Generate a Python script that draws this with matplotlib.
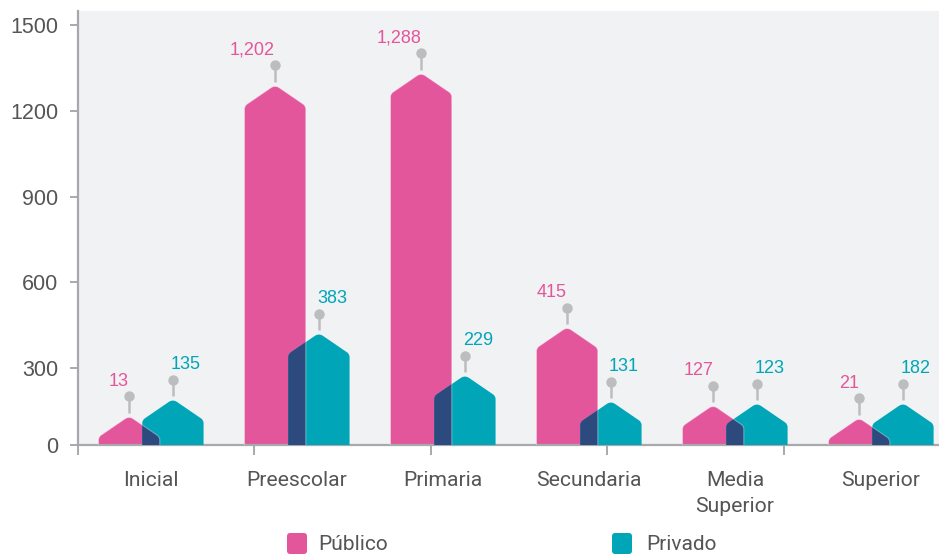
import numpy as np
import matplotlib
matplotlib.use('Agg')
import matplotlib.pyplot as plt
from matplotlib.path import Path
from matplotlib.patches import PathPatch, FancyBboxPatch

# --- Data ---
categories = ['Inicial', 'Preescolar', 'Primaria', 'Secundaria', 'Media\nSuperior', 'Superior']
publico_labels = [13, 1202, 1288, 415, 127, 21]
privado_labels = [135, 383, 229, 131, 123, 182]
# heights of the bar bodies (shoulder level) as drawn in the picture
publico_body = [59, 1217, 1259, 370, 97, 52]
privado_body = [118, 349, 202, 111, 104, 104]
y_ticks = [0, 300, 600, 900, 1200, 1500]

# --- Style ---
PINK = '#e4569b'
TEAL = '#00a6b8'
DARK = '#2c4a7d'
BG = '#f1f2f4'
AXIS = '#a8a9ad'
PIN = '#bdbdc0'
TEXT = '#555555'
CAT_FONT = 'Roboto'
NUM_FONT = 'Liberation Sans'

W, H = 939, 555
fig = plt.figure(figsize=(W / 100, H / 100), dpi=100)
ax = fig.add_axes([78 / W, 1 - 445 / H, (W - 78) / W, (445 - 11) / H])
ax.set_facecolor(BG)

# the bottom of the chart sits a little above zero (the 0 tick is pinned there)
XMIN, XMAX = -0.5, 5.397
YMIN, YMAX = 31, 1549
ax.set_xlim(XMIN, XMAX)
ax.set_ylim(YMIN, YMAX)
sx = (W - 78) / (XMAX - XMIN)   # px per x unit
sy = (445 - 11) / (YMAX - YMIN)  # px per y unit

BAR_W = 0.42
OFF = 0.15
ROOF = 21 / sy


def toward(v, a, rad):
    dx, dy = (a[0] - v[0]) * sx, (a[1] - v[1]) * sy
    t = min(rad / np.hypot(dx, dy), 0.5)
    return (v[0] + (a[0] - v[0]) * t, v[1] + (a[1] - v[1]) * t)


def house_path(cx, body):
    l, r = cx - BAR_W / 2, cx + BAR_W / 2
    pts = [(l, 0), (l, body), (cx, body + ROOF), (r, body), (r, 0)]
    radii = [0, 3, 5, 3, 0]
    verts = [pts[0]]
    codes = [Path.MOVETO]
    for i in (1, 2, 3):
        a = toward(pts[i], pts[i - 1], radii[i])
        b = toward(pts[i], pts[i + 1], radii[i])
        verts += [a, pts[i], b]
        codes += [Path.LINETO, Path.CURVE3, Path.CURVE3]
    verts += [pts[4], pts[0]]
    codes += [Path.LINETO, Path.CLOSEPOLY]
    return Path(verts, codes)


x = np.arange(len(categories))
for i in range(len(categories)):
    cp, ct = x[i] - OFF, x[i] + OFF
    pp = house_path(cp, publico_body[i])
    tp = house_path(ct, privado_body[i])
    pink = PathPatch(pp, facecolor=PINK, edgecolor='none', zorder=2)
    ax.add_patch(pink)
    ax.add_patch(PathPatch(tp, facecolor=TEAL, edgecolor='none', zorder=3))
    dark = PathPatch(tp, facecolor=DARK, edgecolor='none', zorder=4)
    ax.add_patch(dark)
    dark.set_clip_path(pink)
    ax.add_patch(PathPatch(pp, facecolor='none', edgecolor='white', alpha=0.35, lw=0.8, zorder=5))

    # pins and value labels
    for cx, body, val, col, ha, dxp in [(cp, publico_body[i], publico_labels[i], PINK, 'right', 0),
                                         (ct, privado_body[i], privado_labels[i], TEAL, 'left', -2)]:
        peak = body + ROOF
        head = peak + 19.5 / sy
        ax.plot([cx, cx], [peak + 3 / sy, head], color=PIN, lw=1.8, zorder=6, solid_capstyle='butt')
        ax.plot(cx, head, 'o', color=PIN, ms=7.5, mec='none', zorder=7)
        ax.text(cx + dxp / sx, head + 10.5 / sy, f'{val:,}', ha=ha, va='baseline',
                color=col, fontsize=13, family=NUM_FONT, zorder=8)

# --- Axes ---
for s in ['top', 'right']:
    ax.spines[s].set_visible(False)
for s in ['left', 'bottom']:
    ax.spines[s].set_color(AXIS)
    ax.spines[s].set_linewidth(1.6)

ax.set_yticks([max(t, YMIN) for t in y_ticks])
ax.set_yticklabels([str(t) for t in y_ticks], family=NUM_FONT)
ax.tick_params(axis='y', length=6, width=1.4, color=AXIS, labelsize=15.5, labelcolor=TEXT, pad=8)

ax.set_xticks(XMIN + 1.208 * np.arange(5))
ax.set_xticklabels([])
ax.tick_params(axis='x', which='major', length=7.5, width=1.4, color=AXIS)
ax.set_xticks(x, minor=True)
ax.set_xticklabels(categories, minor=True, family=CAT_FONT, linespacing=1.5)
ax.tick_params(axis='x', which='minor', length=0, pad=18.5, labelsize=15.2, labelcolor=TEXT)

# --- Legend ---
for x0, tx, lab, col in [(287, 318, 'Público', PINK), (612, 646, 'Privado', TEAL)]:
    box = FancyBboxPatch((x0 / W, 1 - 554 / H), 20 / W, 21 / H,
                         boxstyle='round,pad=0,rounding_size=0.0035',
                         mutation_aspect=W / H, transform=fig.transFigure,
                         facecolor=col, edgecolor='none')
    fig.patches.append(box)
    fig.text(tx / W, 1 - 544 / H, lab, ha='left', va='center', fontsize=15,
             color=TEXT, family=CAT_FONT)

fig.savefig('out.png', dpi=100)
